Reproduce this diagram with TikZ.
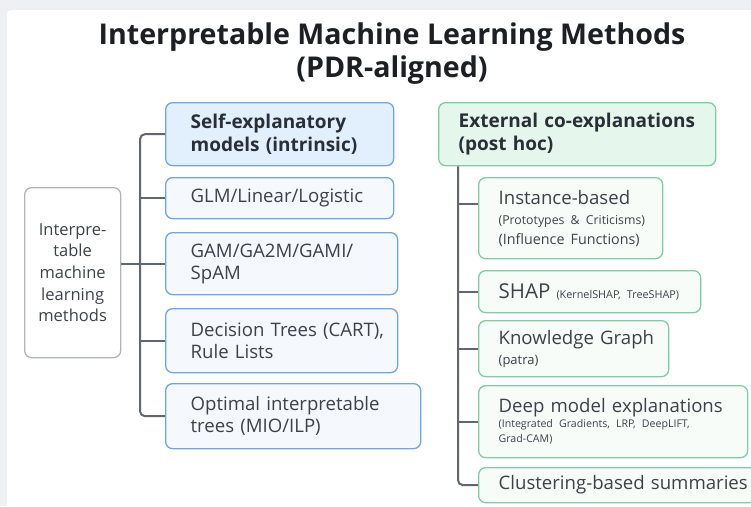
\documentclass[tikz,border=0pt]{standalone}
\usepackage{fontspec}
\setmainfont{Open Sans}
\usetikzlibrary{calc}
\definecolor{bggray}{RGB}{238,240,243}
\definecolor{blueline}{RGB}{112,166,232}
\definecolor{bluehead}{RGB}{226,239,252}
\definecolor{bluefill}{RGB}{245,249,254}
\definecolor{greenline}{RGB}{128,204,166}
\definecolor{greenhead}{RGB}{229,246,237}
\definecolor{greenfill}{RGB}{247,252,249}
\definecolor{rootline}{RGB}{176,181,189}
\definecolor{connline}{RGB}{98,102,110}
\definecolor{txtgray}{RGB}{62,66,72}
\definecolor{headtxt}{RGB}{42,46,54}
\definecolor{titletxt}{RGB}{28,31,36}
\newcommand{\bodytxt}{\fontsize{18.6}{22}\selectfont}
\newcommand{\headtxt}{\fontsize{19}{23}\selectfont\bfseries}
\newcommand{\smalltxt}[1]{\fontsize{#1}{20}\selectfont}

\tikzset{
  basebox/.style={rounded corners=7pt, line width=1.3pt, anchor=north west, align=left, inner xsep=8pt, inner ysep=0pt, text=txtgray, font=\bodytxt},
  leftpad/.style={execute at begin node={\leftskip=17pt}},
  rightpad/.style={execute at begin node={\leftskip=12pt}},
  selfbox/.style={basebox, leftpad, draw=blueline, fill=bluehead, text=headtxt, font=\headtxt},
  leftleaf/.style={basebox, leftpad, draw=blueline, fill=bluefill},
  extbox/.style={basebox, rightpad, draw=greenline, fill=greenhead, text=headtxt, font=\headtxt},
  rightleaf/.style={basebox, rightpad, draw=greenline, fill=greenfill},
  conn/.style={draw=connline, line width=2pt, rounded corners=5pt}
}

\begin{document}
\begin{tikzpicture}[x=1pt,y=-1pt]

    \useasboundingbox (0,0) rectangle (751,506);
    \fill[bggray] (0,0) rectangle (751,506);
    \fill[white, rounded corners=4pt] (7,10) rectangle (770,530);

    \node[anchor=north, align=center, text=titletxt, font=\fontsize{28.6}{33}\selectfont\bfseries] (title) at (392,19)
      {Interpretable Machine Learning Methods\\(PDR-aligned)};

    \node[basebox, draw=rootline, fill=white, align=center, text width=80, minimum height=170, font=\fontsize{16.5}{21.7}\selectfont] (root) at (24,187)
      {Interpre-\\table\\machine\\learning\\methods};

    \node[selfbox, text width=212, minimum height=63] (self) at (165,102) {Self-explanatory\\models (intrinsic)};
    \node[leftleaf, text width=212, minimum height=41] (glm) at (165,177) {GLM/Linear/Logistic};
    \node[leftleaf, text width=216, minimum height=62] (gam) at (165,232) {GAM/GA2M/GAMI/\\SpAM};
    \node[leftleaf, text width=216, minimum height=64] (dec) at (165,308) {Decision Trees (CART),\\Rule Lists};
    \node[leftleaf, text width=239, minimum height=65] (opt) at (165,383) {Optimal interpretable\\trees (MIO/ILP)};

    \node[extbox, text width=261, minimum height=63] (ext) at (438,102) {External co-explanations\\(post hoc)};
    \node[rightleaf, text width=168, minimum height=81] (inst) at (478,177)
      {Instance-based\par{\smalltxt{12.3}(Prototypes \& Criticisms)\par\smalltxt{14.3}(Influence Functions)\par}};
    \node[rightleaf, text width=206, minimum height=42] (shap) at (478,270)
      {{\fontsize{20.5}{24}\selectfont SHAP} {\fontsize{10.8}{14}\selectfont (KernelSHAP, TreeSHAP)}};
    \node[rightleaf, text width=174, minimum height=56] (kg) at (478,320)
      {Knowledge Graph\par{\smalltxt{13}(patra)\par}};
    \node[rightleaf, text width=253, minimum height=72] (deep) at (478,385)
      {Deep model explanations\par{\fontsize{10.6}{15}\selectfont (Integrated Gradients, LRP, DeepLIFT,\par Grad-CAM)\par}};
    \node[rightleaf, text width=262, minimum height=35] (clust) at (478,467) {Clustering-based summaries};

    \coordinate (ltrunk) at (140,0);
    \coordinate (rtrunk) at (458,0);

    \draw[conn] (root.east |- gam.west) -- (gam.west);
    \draw[conn] (self.west) -- (self.west -| ltrunk) |- (opt.west);
    \draw[conn] (glm.west) -- (glm.west -| ltrunk);
    \draw[conn] (dec.west) -- (dec.west -| ltrunk);

    \draw[conn] (ext.south -| rtrunk) |- (clust.west);
    \draw[conn] ([yshift=14pt]inst.west) -- ([yshift=14pt]inst.west -| rtrunk);
    \draw[conn] (shap.west) -- (shap.west -| rtrunk);
    \draw[conn] (kg.west) -- (kg.west -| rtrunk);
    \draw[conn] (deep.west) -- (deep.west -| rtrunk);

\end{tikzpicture}
\end{document}
